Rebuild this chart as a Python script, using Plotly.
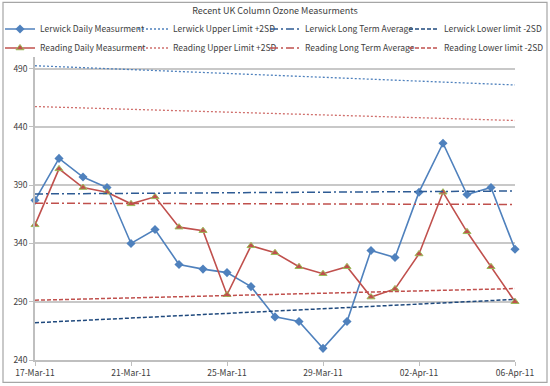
import pandas as pd
import plotly.graph_objects as go

dates = pd.date_range("2011-03-17", "2011-04-06", freq="D")
lerwick = [377, 413, 397, 388, 340, 352, 322, 318, 315, 303, 277, 273, 250, 273,
           334, 328, 384, 426, 382, 388, 335]
reading = [356, 404, 388, 384, 374, 380, 354, 351, 296, 338, 332, 320, 314, 320,
           294, 301, 331, 384, 350, 320, 290]

ends = [dates[0], dates[-1]]
lerwick_upper = [492.5, 476]
lerwick_avg = [382.5, 385]
lerwick_lower = [272, 292]
reading_upper = [457.5, 445.5]
reading_avg = [374.5, 373.5]
reading_lower = [291.3, 301.3]

FONT = "Noto Sans CJK JP, Lato, sans-serif"
TXT = "#404040"
BLUE = "#4F81BD"
RED = "#C0504D"
DOT = "2px,2px"
DASHDOT = "8px,3px,2px,3px"
DASH = "4px,2px"

fig = go.Figure()

def add(name, x, y, legend, **kw):
    fig.add_trace(go.Scatter(x=x, y=y, name=name, legend=legend, cliponaxis=False, **kw))

add("Lerwick Daily Measurment", dates, lerwick, "legend",
    mode="lines+markers", line=dict(color=BLUE, width=1.6),
    marker=dict(symbol="diamond", size=7, color=BLUE))
add("Reading Daily Measurment", dates, reading, "legend",
    mode="lines+markers", line=dict(color=RED, width=1.6),
    marker=dict(symbol="triangle-up", size=7, color=RED, line=dict(color="#9BBB59", width=1)))
add("Lerwick Upper Limit +2SD", ends, lerwick_upper, "legend2",
    mode="lines", line=dict(color=BLUE, width=1.3, dash=DOT))
add("Reading Upper Limit +2SD", ends, reading_upper, "legend2",
    mode="lines", line=dict(color="#D0706D", width=1.3, dash=DOT))
add("Lerwick Long Term Average", ends, lerwick_avg, "legend3",
    mode="lines", line=dict(color="#2E5B94", width=1.5, dash=DASHDOT))
add("Reading Long Term Average", ends, reading_avg, "legend3",
    mode="lines", line=dict(color=RED, width=1.5, dash=DASHDOT))
add("Lerwick Lower limit -2SD", ends, lerwick_lower, "legend4",
    mode="lines", line=dict(color="#1F497D", width=1.5, dash=DASH))
add("Reading Lower limit -2SD", ends, reading_lower, "legend4",
    mode="lines", line=dict(color=RED, width=1.5, dash=DASH))

PL, PR, PT, PB = 35, 515, 57.4, 359.6
W, H = 550, 386
pw, ph = PR - PL, PB - PT

def px(x):
    return (x - PL) / pw

def py(y):
    return (PB - y) / ph

leg_common = dict(orientation="v", xanchor="left", yanchor="top", itemwidth=30,
                  font=dict(family=FONT, size=8.5, color=TXT), bgcolor="rgba(0,0,0,0)",
                  tracegroupgap=0, itemclick=False, borderwidth=0)
legends = {}
for key, lx in [("legend", 0), ("legend2", 133), ("legend3", 265), ("legend4", 404)]:
    legends[key] = dict(leg_common, x=px(lx), y=py(15))

fig.update_layout(
    width=W, height=H,
    margin=dict(l=PL, r=W - PR, t=PT, b=H - PB, autoexpand=False),
    paper_bgcolor="white", plot_bgcolor="white",
    title=dict(text="Recent UK Column Ozone Measurments", x=0.5, xref="paper",
               xanchor="center", y=1 - 7.5 / H, yanchor="top",
               font=dict(family=FONT, size=9, color=TXT)),
    font=dict(family=FONT, size=8.5, color=TXT),
    showlegend=True,
    **legends,
    xaxis=dict(type="date", range=[dates[0], dates[-1]], tick0=dates[0],
               dtick=4 * 86400000, tickformat="%d-%b-%y", showgrid=False,
               showline=True, linecolor="#BFBFBF", linewidth=1.5,
               ticks="outside", ticklen=4, tickcolor="#BFBFBF",
               tickfont=dict(family=FONT, size=8.5, color=TXT), zeroline=False),
    yaxis=dict(range=[240, 500], tick0=240, dtick=50, showgrid=True,
               gridcolor="#C8C8C8", gridwidth=1.5,
               showline=True, linecolor="#BFBFBF", linewidth=1.5,
               ticks="outside", ticklen=4, tickcolor="#BFBFBF",
               tickfont=dict(family=FONT, size=8.5, color=TXT), zeroline=False),
    shapes=[dict(type="rect", xref="paper", yref="paper",
                 x0=px(3), x1=px(547), y0=py(382), y1=py(3),
                 line=dict(color="#A6A6A6", width=1.2), layer="below")],
)

fig.write_html("out.html", config={"displayModeBar": False},
               post_script="document.body.style.margin='0';document.body.style.overflow='hidden';")
